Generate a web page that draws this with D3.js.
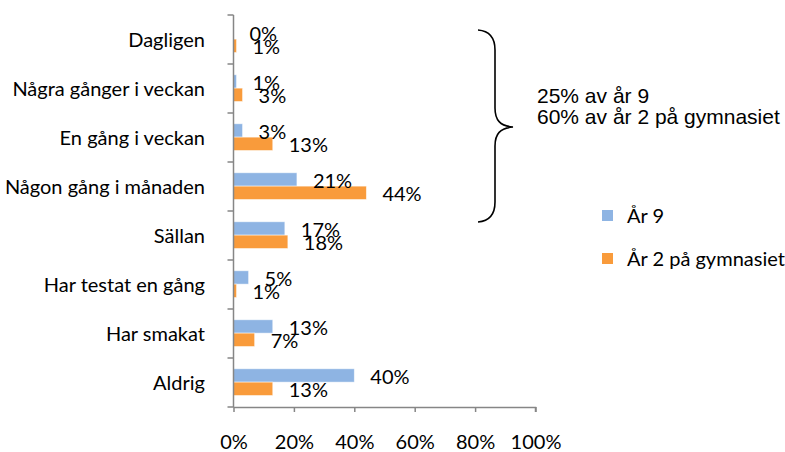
<!DOCTYPE html>
<html>
<head>
<meta charset="utf-8">
<script src="https://cdn.jsdelivr.net/npm/d3@7"></script>
<style>
  body { margin: 0; background: #fff; }
  svg text { font-family: Lato, "Open Sans", sans-serif; fill: #000; }
</style>
</head>
<body>
<div id="chart"></div>
<script>
// categories top to bottom
var categories = [
    "Dagligen",
    "Några gånger i veckan",
    "En gång i veckan",
    "Någon gång i månaden",
    "Sällan",
    "Har testat en gång",
    "Har smakat",
    "Aldrig"
];
var seriesNames = ["År 9", "År 2 på gymnasiet"];
var year9 = [0, 1, 3, 21, 17, 5, 13, 40];
var gym2 = [1, 3, 13, 44, 18, 1, 7, 13];
var xTicks = [0, 20, 40, 60, 80, 100];
var noteLines = ["25% av år 9", "60% av år 2 på gymnasiet"];

var colors = ["#8EB4E3", "#F99B3B"];
var width = 785, height = 452;

var svg = d3.select("#chart").append("svg")
    .attr("width", width)
    .attr("height", height);

// plot area (note: "top" is taken by window.top)
var plot = {left: 233.5, right: 535.5, top: 15, bottom: 407};

var x = d3.scaleLinear().domain([0, 100]).range([plot.left, plot.right]);
var y = d3.scaleBand().domain(categories).range([plot.top, plot.bottom]);
var bw = y.bandwidth();
var ySub = d3.scaleBand().domain([0, 1]).range([bw * 0.22, bw * 0.765]);

var rows = categories.map(function(c, i) {
    return {cat: c, vals: [year9[i], gym2[i]]};
});

// bars
var groups = svg.append("g").selectAll("g").data(rows).enter().append("g")
    .attr("transform", function(d) { return "translate(0," + y(d.cat) + ")"; });

groups.selectAll("rect").data(function(d) { return d.vals; }).enter().append("rect")
    .attr("x", x(0))
    .attr("y", function(d, i) { return ySub(i); })
    .attr("width", function(d) { return x(d) - x(0); })
    .attr("height", ySub.bandwidth())
    .attr("fill", function(d, i) { return colors[i]; })
    .attr("stroke", "#fff")
    .attr("stroke-opacity", 0.6)
    .attr("stroke-width", 0.8);

// value labels
groups.selectAll("text.val").data(function(d) { return d.vals; }).enter().append("text")
    .attr("class", "val")
    .attr("x", function(d) { return x(d) + 16; })
    .attr("y", function(d, i) { return ySub(i) + ySub.bandwidth() / 2 + 1.5; })
    .attr("dy", "0.35em")
    .style("font-size", "20px")
    .text(function(d) { return d + "%"; });

// x axis
var xAxis = svg.append("g")
    .attr("transform", "translate(0," + plot.bottom + ")")
    .call(d3.axisBottom(x).tickValues(xTicks).tickSize(5).tickPadding(23)
        .tickFormat(function(d) { return d + "%"; }));
xAxis.selectAll("path, line").attr("stroke", "#868686").attr("stroke-width", 1.5);
xAxis.select(".domain").attr("d", "M" + plot.left + ",0.5H" + plot.right + "V5");
xAxis.selectAll("text").style("font-size", "20px").attr("fill", "#000");

// y axis line + ticks at band edges
var yAxis = svg.append("g");
yAxis.append("line")
    .attr("x1", plot.left).attr("x2", plot.left)
    .attr("y1", plot.top).attr("y2", plot.bottom)
    .attr("stroke", "#868686").attr("stroke-width", 1.5);
yAxis.selectAll("line.tick").data(categories.concat(["_end"])).enter().append("line")
    .attr("class", "tick")
    .attr("x1", plot.left - 6).attr("x2", plot.left)
    .attr("y1", function(d, i) { return plot.top + i * bw; })
    .attr("y2", function(d, i) { return plot.top + i * bw; })
    .attr("stroke", "#868686").attr("stroke-width", 1.5);
yAxis.selectAll("text").data(categories).enter().append("text")
    .attr("x", 205)
    .attr("y", function(d) { return y(d) + bw / 2; })
    .attr("dy", "0.35em")
    .attr("text-anchor", "end")
    .style("font-size", "20px")
    .text(function(d) { return d; });

// brace
svg.append("path")
    .attr("d", "M478,30 C490,31 495,38 495,50 L495,108 C495,120 500,126 513,127 " +
               "C500,128 495,134 495,146 L495,202 C495,214 490,221 478,222")
    .attr("fill", "none")
    .attr("stroke", "#000")
    .attr("stroke-width", 1.6);

// note text
svg.append("g").selectAll("text").data(noteLines).enter().append("text")
    .attr("x", 537)
    .attr("y", function(d, i) { return 103 + i * 21; })
    .style("font-family", "'Liberation Sans', Arial, sans-serif")
    .style("font-size", "21px")
    .text(function(d) { return d; });

// legend
var legend = svg.append("g").selectAll("g").data(seriesNames).enter().append("g")
    .attr("transform", function(d, i) { return "translate(602," + (210 + i * 43) + ")"; });
legend.append("rect")
    .attr("width", 11).attr("height", 11)
    .attr("fill", function(d, i) { return colors[i]; });
legend.append("text")
    .attr("x", 25).attr("y", 5.5)
    .attr("dy", "0.35em")
    .style("font-size", "20px")
    .text(function(d) { return d; });
</script>
</body>
</html>
